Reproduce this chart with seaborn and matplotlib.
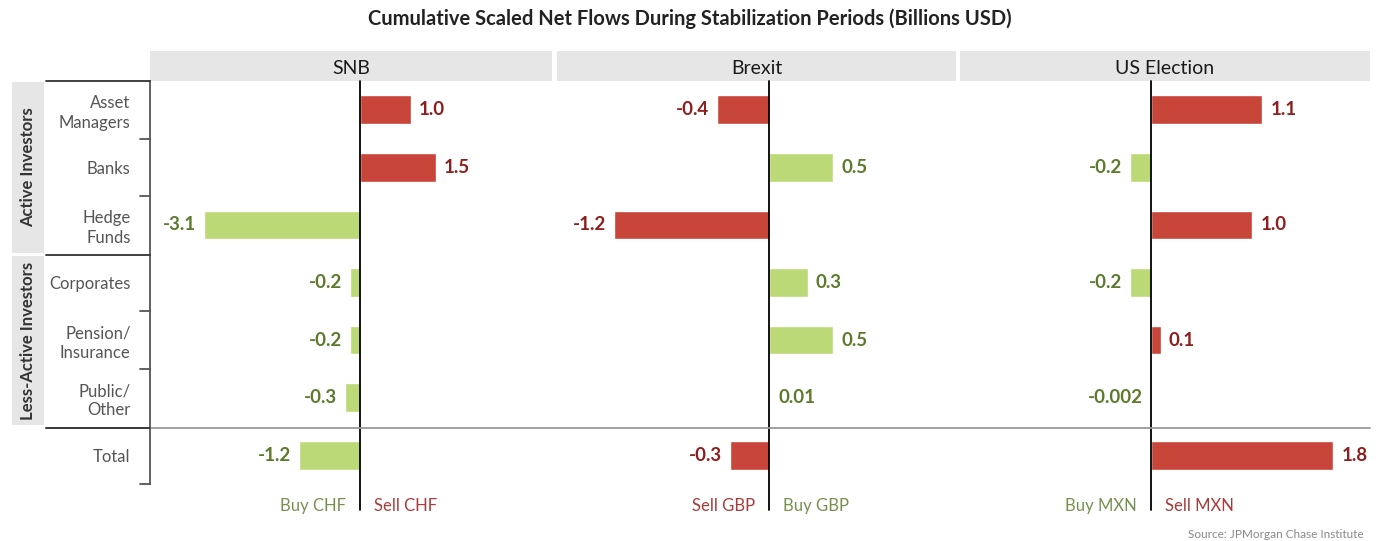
import matplotlib
matplotlib.use("Agg")
import matplotlib.pyplot as plt
from matplotlib import font_manager
from matplotlib.lines import Line2D
from matplotlib.patches import Rectangle
import seaborn as sns
import pandas as pd
import numpy as np

# ---------------- data ----------------
categories = ["Asset\nManagers", "Banks", "Hedge\nFunds", "Corporates",
              "Pension/\nInsurance", "Public/\nOther", "Total"]
panels = ["SNB", "Brexit", "US Election"]
snb_values = [1.0, 1.5, -3.1, -0.2, -0.2, -0.3, -1.2]
brexit_values = [-0.4, 0.5, -1.2, 0.3, 0.5, 0.01, -0.3]
us_values = [1.1, -0.2, 1.0, -0.2, 0.1, -0.002, 1.8]
snb_labels = ["1.0", "1.5", "-3.1", "-0.2", "-0.2", "-0.3", "-1.2"]
brexit_labels = ["-0.4", "0.5", "-1.2", "0.3", "0.5", "0.01", "-0.3"]
us_labels = ["1.1", "-0.2", "1.0", "-0.2", "0.1", "-0.002", "1.8"]
currencies = ["CHF", "GBP", "MXN"]
sell_sign = [1, -1, 1]          # sign of value meaning "Sell" for each panel
groups = ["Active Investors", "Less-Active Investors"]
title = "Cumulative Scaled Net Flows During Stabilization Periods (Billions USD)"
source = "Source: JPMorgan Chase Institute"

values = [snb_values, brexit_values, us_values]
labels = [snb_labels, brexit_labels, us_labels]

rows = []
for p, vals, labs, ss in zip(panels, values, labels, sell_sign):
    for c, v, l in zip(categories, vals, labs):
        rows.append({"panel": p, "category": c, "value": v, "label": l,
                     "flow": "Sell" if np.sign(v) == ss else "Buy"})
df = pd.DataFrame(rows)

# ---------------- style ----------------
sns.set_theme(style="white")
avail = {f.name for f in font_manager.fontManager.ttflist}
fam = "Liberation Sans Narrow" if "Liberation Sans Narrow" in avail else "Lato"
plt.rcParams["font.family"] = [fam, "DejaVu Sans"]

RED = "#C8453A"
GREEN = "#BCD978"
RED_TXT = "#8E1F1F"
GREEN_TXT = "#5C7A2C"
palette = {"Sell": RED, "Buy": GREEN}
txt_col = {"Sell": RED_TXT, "Buy": GREEN_TXT}
GREY = "#555555"
STRIP = "#E6E6E6"

W, H = 1380, 541
fig = plt.figure(figsize=(W / 100, H / 100), dpi=100)

def fx(px):
    return px / W

def fy(py):
    return 1 - py / H

ax_top, ax_bot = 81, 484
panel_px = [(150, 552), (557, 956), (960, 1370)]
xlims = [(-4.16, 3.8), (-1.64, 1.45), (-1.88, 2.16)]

axes = []
for i, (p, (x0, x1)) in enumerate(zip(panels, panel_px)):
    ax = fig.add_axes([fx(x0), fy(ax_bot), fx(x1 - x0), (ax_bot - ax_top) / H])
    sub = df[df["panel"] == p]
    sns.barplot(data=sub, x="value", y="category", hue="flow", order=categories,
                palette=palette, hue_order=["Buy", "Sell"], dodge=False,
                width=0.5, legend=False, ax=ax, orient="h", saturation=1)
    ax.set_xlim(*xlims[i])
    ax.set_ylim(6.5, -0.5)
    ax.set_xlabel("")
    ax.set_ylabel("")
    ax.set_xticks([])
    for s in ["top", "right", "bottom", "left"]:
        ax.spines[s].set_visible(False)
    # zero line
    ext = 26 / (ax_bot - ax_top)
    ax.plot([0, 0], [-ext, 1], transform=ax.get_xaxis_transform(),
            color="black", lw=1.3, clip_on=False, zorder=5)
    # value labels
    xr = xlims[i][1] - xlims[i][0]
    off = xr * 8 / (x1 - x0)
    for j, r in enumerate(sub.itertuples()):
        if r.value >= 0:
            ax.text(r.value + off, j, r.label, ha="left", va="center",
                    fontsize=13.5, fontweight="bold", color=txt_col[r.flow])
        else:
            ax.text(r.value - off, j, r.label, ha="right", va="center",
                    fontsize=13.5, fontweight="bold", color=txt_col[r.flow])
    # strip title
    sh = 30 / (ax_bot - ax_top)
    ax.add_patch(Rectangle((0, 1.0), 1, sh, transform=ax.transAxes,
                           facecolor=STRIP, edgecolor="none", clip_on=False))
    ax.text(0.5, 1 + sh / 2 - 3 / (ax_bot - ax_top), p, transform=ax.transAxes,
            ha="center", va="center", fontsize=14, color="#1a1a1a")
    # buy / sell labels
    sell_txt = "Sell " + currencies[i]
    buy_txt = "Buy " + currencies[i]
    ly = -22 / (ax_bot - ax_top)
    lo = xr * 14 / (x1 - x0)
    if sell_sign[i] > 0:
        left_t, left_c, right_t, right_c = buy_txt, "#77904F", sell_txt, "#A83B3B"
    else:
        left_t, left_c, right_t, right_c = sell_txt, "#A83B3B", buy_txt, "#77904F"
    ax.text(-lo, ly, left_t, transform=ax.get_xaxis_transform(), ha="right",
            va="center", fontsize=12, color=left_c)
    ax.text(lo, ly, right_t, transform=ax.get_xaxis_transform(), ha="left",
            va="center", fontsize=12, color=right_c)
    if i == 0:
        ax.spines["left"].set_visible(True)
        ax.spines["left"].set_color(GREY)
        ax.spines["left"].set_linewidth(1.3)
        ax.set_yticks(range(len(categories)))
        ax.set_yticklabels(categories, fontsize=12, color=GREY, linespacing=1.25)
        ax.tick_params(axis="y", length=0, pad=14)
        for b in [0.5, 1.5, 3.5, 4.5, 6.5]:
            ax.plot([-10 / (x1 - x0), 0], [b, b], transform=ax.get_yaxis_transform(),
                    color=GREY, lw=1.3, clip_on=False)
    else:
        ax.set_yticks([])
    axes.append(ax)

# group separators & total separator
for py in [81, 255]:
    fig.add_artist(Line2D([fx(46), fx(150)], [fy(py), fy(py)], color="#333333", lw=1.3))
fig.add_artist(Line2D([fx(46), fx(1370)], [fy(428), fy(428)], color="#999999", lw=1.3))
fig.add_artist(Line2D([fx(46), fx(150)], [fy(428), fy(428)], color="#333333", lw=1.3))

# group boxes
for (g, y0, y1) in [(groups[0], 82, 253), (groups[1], 256, 425)]:
    fig.add_artist(Rectangle((fx(12), fy(y1)), fx(32), (y1 - y0) / H,
                             facecolor=STRIP, edgecolor="none"))
    fig.text(fx(28), fy((y0 + y1) / 2), g, rotation=90, ha="center", va="center",
             fontsize=12, fontweight="bold", color="#333333")

fig.text(0.5, fy(19), title, ha="center", va="center", fontsize=14.5,
         fontweight="bold", color="#222222")
fig.text(fx(1364), fy(535), source, ha="right", va="center", fontsize=8.5,
         color="#888888")

fig.savefig("out.png", dpi=100)
